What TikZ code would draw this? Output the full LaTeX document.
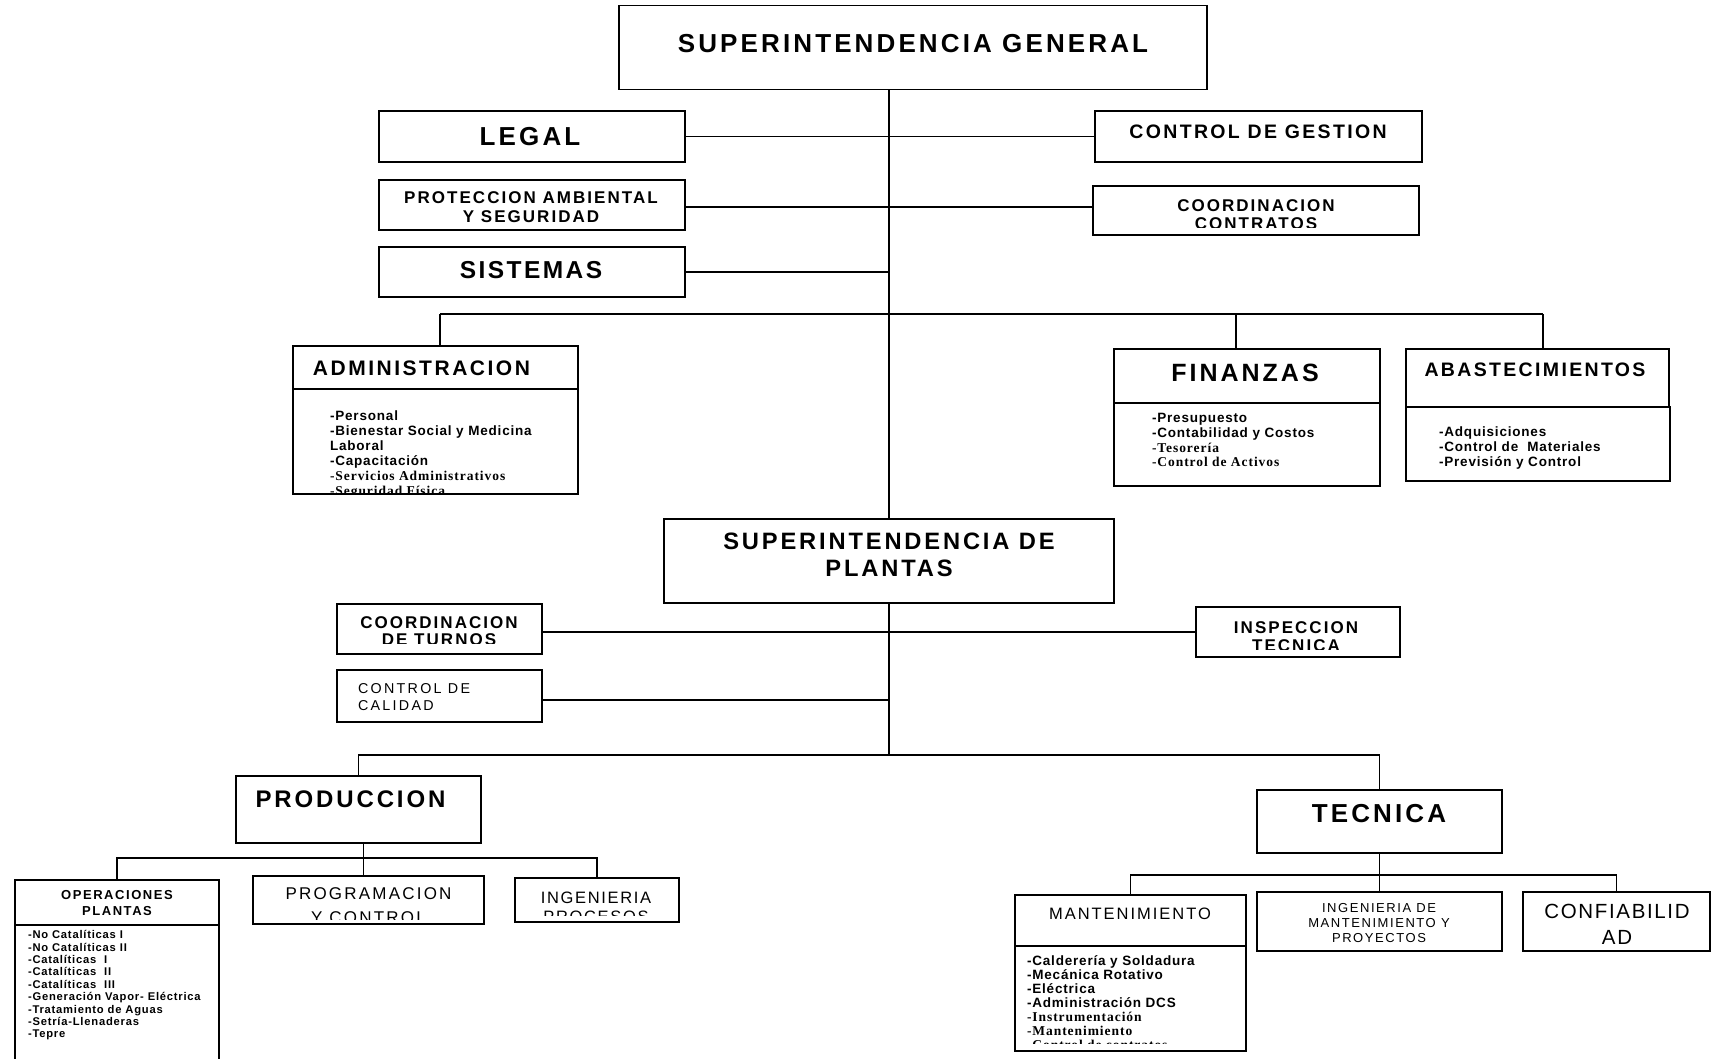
\documentclass[tikz,border=0pt]{standalone}
\usepackage{fontspec}
\setmainfont{Liberation Sans}
\newfontfamily\lsr{Liberation Serif}
% size, line skip, letter spacing
\newcommand\setfs[3]{\fontsize{#1}{#2}\selectfont\addfontfeatures{LetterSpace=#3}}
\newcommand\serifbit{\lsr\bfseries\addfontfeatures{LetterSpace=7}}
% empty framed box from its corners: name, x1, y1, x2, y2
\newcommand\orgbox[5]{\node[box,minimum width={(#4)-(#2)},minimum height={(#5)-(#3)}] (#1) at ({((#2)+(#4))/2},{((#3)+(#5))/2}) {};}
\begin{document}
\begin{tikzpicture}[x=1pt,y=-1pt,
  box/.style={draw,line width=1.6pt,inner sep=0pt,outer sep=0pt},
  ln/.style={line width=1.5pt},
  thinln/.style={line width=0.8pt},
  txt/.style={inner sep=0pt,outer sep=0pt,align=center}]
\useasboundingbox (0,0) rectangle (1712,1058);
\fill[white] (0,0) rectangle (1712,1058);
\clip (0,0) rectangle (1712,1058);

% ---------- boxes ----------
\orgbox{sg}{619}{5.5}{1207}{89.5}
\orgbox{legal}{379}{111}{685}{162}
\orgbox{cg}{1095}{111}{1422}{162}
\orgbox{pa}{379}{180}{685}{230}
\orgbox{cc}{1093}{186}{1419}{235}
\orgbox{sis}{379}{247}{685}{297}
\orgbox{admH}{293}{346}{578}{389}
\orgbox{admB}{293}{389}{578}{494}
\orgbox{finH}{1114}{349}{1380}{403}
\orgbox{finB}{1114}{403}{1380}{486}
\orgbox{abH}{1406}{349}{1669}{407}
\orgbox{abB}{1406}{407}{1670}{481}
\orgbox{sp}{664}{519}{1114}{603}
\orgbox{ct}{337}{604}{542}{654}
\orgbox{it}{1196}{607}{1400}{657}
\orgbox{cal}{337}{670}{542}{722}
\orgbox{prod}{236}{776}{481}{843}
\orgbox{tec}{1257}{790}{1502}{853}
\orgbox{opsH}{15}{880}{219}{925}
\orgbox{opsB}{15}{925}{219}{1075}
\orgbox{prog}{253}{876}{484}{924}
\orgbox{ing}{515}{878}{679}{922}
\orgbox{mantH}{1015}{895}{1246}{946}
\orgbox{mantB}{1015}{946}{1246}{1051}
\orgbox{imp}{1257}{892}{1502}{951}
\orgbox{conf}{1523}{892}{1710}{951}

% ---------- junction points ----------
\coordinate (jpa) at (0,207);
\coordinate (jcal) at (0,700);
\coordinate (t1) at (440,314);
\coordinate (t2) at (1236,314);
\coordinate (t3) at (1543,314);
\coordinate (u1) at (358,755);
\coordinate (v) at (363,858);
\coordinate (w) at (1379,875);

% ---------- connectors ----------
\draw[ln] (sg.south -| sp.north) -- (sp.north);
\draw[ln] (legal.east) -- (legal.east -| cg.west);
\draw[ln] (pa.east |- jpa) -- (cc.west |- jpa);
\draw[ln] (sis.east) -- (sis.east -| sp.north);
\draw[ln] (t1) -- (t3);
\draw[ln] (t1) -- (t1 |- admH.north);
\draw[ln] (t2) -- (t2 |- finH.north);
\draw[ln] (t3) -- (t3 |- abH.north);
\draw[ln] (ct.east |- it.west) -- (it.west);
\draw[ln] (cal.east |- jcal) -- (sp.south |- jcal);
\draw[ln] (sp.south) -- (sp.south |- u1);
\draw[ln] (prod.north) |- (tec.north |- u1) -- (tec.north);
\draw[thinln] (prod.south -| v) -- (v |- prog.north);
\draw[ln] (opsH.north) |- (ing.north |- v) -- (ing.north);
\draw[ln] (tec.south) -- (imp.north);
\draw[ln] (mantH.north) |- (conf.north |- w) -- (conf.north);

% ---------- titles ----------
\node[txt,anchor=north,font=\bfseries\setfs{26}{30}{12}] (sg-t) at (913,34.7) {SUPERINTENDENCIA GENERAL};
\node[txt,anchor=north,font=\bfseries\setfs{26}{30}{12}] (legal-t) at (530,127.2) {LEGAL};
\node[txt,anchor=north,font=\bfseries\setfs{19.5}{23}{12}] (cg-t) at (1258,125) {CONTROL DE GESTION};
\begin{scope}
  \clip (pa.north west) rectangle ([yshift=8pt]pa.south east);
  \node[txt,anchor=north,font=\bfseries\setfs{17}{19}{12}] (pa-t) at (531,192) {PROTECCION AMBIENTAL\\Y SEGURIDAD};
\end{scope}
\begin{scope}
  \clip (cc.north west) rectangle ([yshift=8pt]cc.south east);
  \node[txt,anchor=north,font=\bfseries\setfs{17}{18.5}{12}] (cc-t) at (1256,199.4) {COORDINACION\\CONTRATOS};
\end{scope}
\node[txt,anchor=north,font=\bfseries\setfs{24.5}{28}{10}] (sis-t) at (531,261.2) {SISTEMAS};
\node[txt,anchor=north,font=\bfseries\setfs{21}{25}{12}] (adm-t) at (421.5,361) {ADMINISTRACION};
\node[txt,anchor=north,font=\bfseries\setfs{25}{29}{12}] (fin-t) at (1245,364.5) {FINANZAS};
\node[txt,anchor=north,font=\bfseries\setfs{19.5}{23}{12}] (ab-t) at (1535,362.5) {ABASTECIMIENTOS};
\node[txt,anchor=north,font=\bfseries\setfs{23.7}{27.5}{12}] (sp-t) at (889,532.5) {SUPERINTENDENCIA DE\\PLANTAS};
\begin{scope}
  \clip (ct.north west) rectangle ([yshift=10.5pt]ct.south east);
  \node[txt,anchor=north,font=\bfseries\setfs{17}{17.5}{12}] (ct-t) at (439,616.5) {COORDINACION\\DE TURNOS};
\end{scope}
\begin{scope}
  \clip (it.north west) rectangle ([yshift=8pt]it.south east);
  \node[txt,anchor=north,font=\bfseries\setfs{17}{18.3}{12}] (it-t) at (1296,621.3) {INSPECCION\\TECNICA};
\end{scope}
\node[txt,anchor=north west,align=left,font=\setfs{14.3}{17}{16}] (cal-t) at (358,684) {CONTROL DE\\CALIDAD};
\node[txt,anchor=north west,font=\bfseries\setfs{24}{28}{12}] (prod-t) at (255.5,790.5) {PRODUCCION};
\node[txt,anchor=north,font=\bfseries\setfs{26}{30}{12}] (tec-t) at (1379,804) {TECNICA};
\node[txt,anchor=north,font=\bfseries\setfs{13}{16}{12}] (ops-t) at (117,890.3) {OPERACIONES\\PLANTAS};
\begin{scope}
  \clip (prog.north west) rectangle ([yshift=5pt]prog.south east);
  \node[txt,anchor=north,font=\setfs{17}{24}{13}] (prog-t) at (368.5,888) {PROGRAMACION\\Y CONTROL};
\end{scope}
\begin{scope}
  \clip (ing.north west) rectangle ([yshift=7pt]ing.south east);
  \node[txt,anchor=north,font=\setfs{16.5}{19}{10}] (ing-t) at (596,892) {INGENIERIA\\PROCESOS};
\end{scope}
\node[txt,anchor=north,font=\setfs{16.5}{19}{12}] (mant-t) at (1130,907.5) {MANTENIMIENTO};
\node[txt,anchor=north,font=\setfs{13}{15}{12}] (imp-t) at (1379,903) {INGENIERIA DE\\MANTENIMIENTO Y\\PROYECTOS};
\node[txt,anchor=north,font=\setfs{20.5}{26}{8}] (conf-t) at (1617,904.5) {CONFIABILID\\AD};

% ---------- function lists ----------
\begin{scope}
  \clip (admB.north west) rectangle ([yshift=1pt]admB.south east);
  \node[txt,anchor=north west,align=left,font=\bfseries\setfs{13.5}{15.1}{6}] (adm-l) at (330,410.5)
    {-Personal\\-Bienestar Social y Medicina\\Laboral\\-Capacitación\\{\serifbit -Servicios Administrativos}\\{\serifbit -Seguridad Física}};
\end{scope}
\node[txt,anchor=north west,align=left,font=\bfseries\setfs{13.5}{14.9}{6}] (fin-l) at (1152,413)
  {-Presupuesto\\-Contabilidad y Costos\\{\serifbit -Tesorería}\\{\serifbit -Control de Activos}};
\node[txt,anchor=north west,align=left,font=\bfseries\setfs{13.5}{15}{6}] (ab-l) at (1439,427)
  {-Adquisiciones\\-Control de~ Materiales\\-Previsión y Control};
\node[txt,anchor=north west,align=left,font=\bfseries\setfs{11.2}{12.4}{7}] (ops-l) at (28,930.5)
  {-No Catalíticas I\\-No Catalíticas II\\-Catalíticas~ I\\-Catalíticas~ II\\-Catalíticas~ III\\-Generación Vapor- Eléctrica\\-Tratamiento de Aguas\\-Setría-Llenaderas\\-Tepre};
\begin{scope}
  \clip (mantB.north west) rectangle ([yshift=8pt]mantB.south east);
  \node[txt,anchor=north west,align=left,font=\bfseries\setfs{13.5}{13.95}{6}] (mant-l) at (1027,955.5)
    {-Calderería y Soldadura\\-Mecánica Rotativo\\-Eléctrica\\-Administración DCS\\{\serifbit -Instrumentación}\\{\serifbit -Mantenimiento}\\{\serifbit -Control de contratos}};
\end{scope}
\end{tikzpicture}
\end{document}
